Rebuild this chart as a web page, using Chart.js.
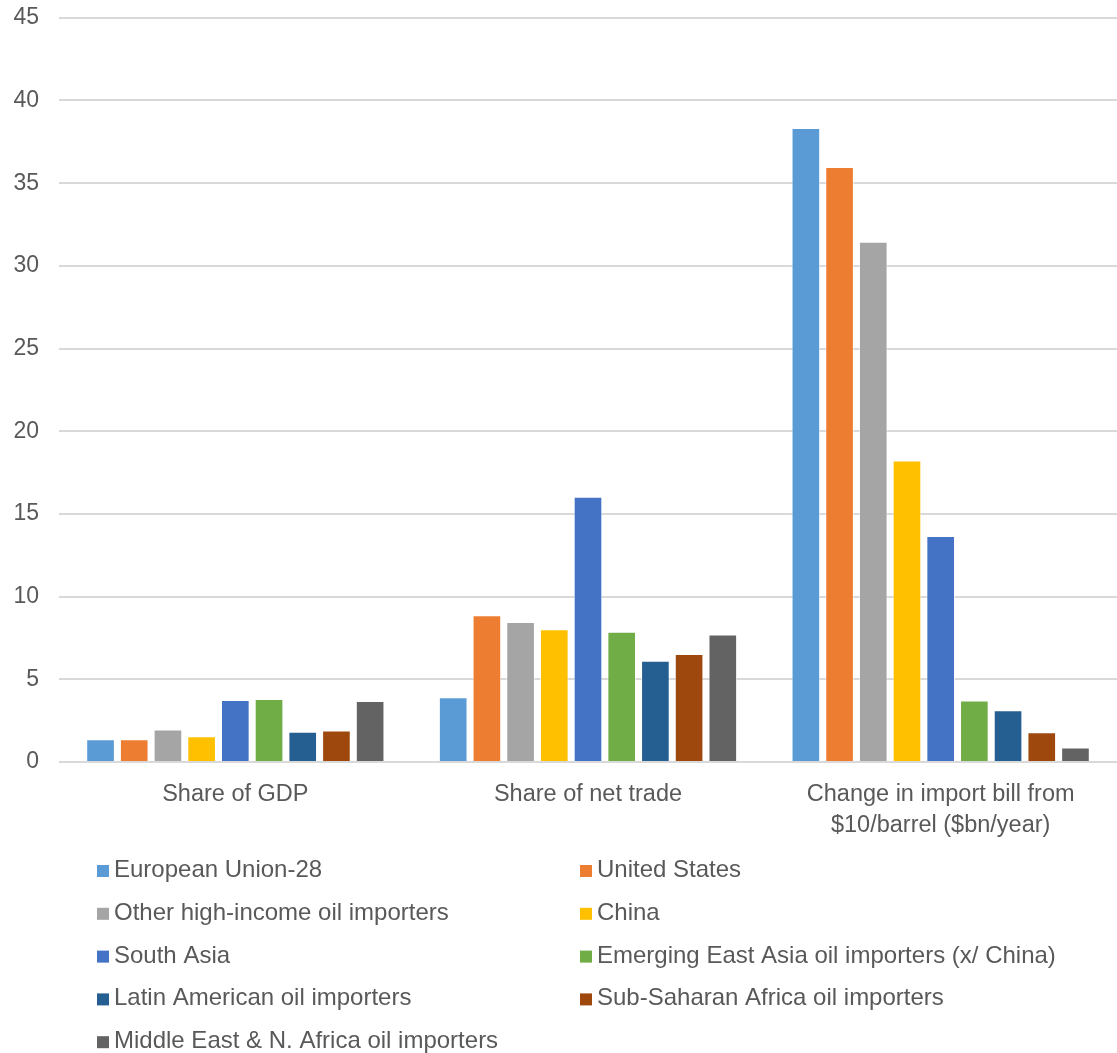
<!DOCTYPE html>
<html>
<head>
    <title>Oil import exposure</title>
    <script src="https://cdn.jsdelivr.net/npm/chart.js"></script>
    <style>
        body { margin: 0; background: #fff; overflow: hidden; }
        #chart-box { position: relative; width: 1117px; height: 1069px; margin-top: -16px; }
    </style>
</head>
<body>
    <div id="chart-box">
        <canvas id="importChart"></canvas>
    </div>

    <script>
        var categories = ["Share of GDP", "Share of net trade", ["Change in import bill from", "$10/barrel ($bn/year)"]];

        var euValues = [1.38, 3.91, 38.33];
        var usValues = [1.38, 8.87, 35.98];
        var otherHighIncomeValues = [1.97, 8.47, 31.45];
        var chinaValues = [1.56, 8.03, 18.23];
        var southAsiaValues = [3.74, 16.03, 13.66];
        var eastAsiaValues = [3.80, 7.87, 3.71];
        var latinAmericaValues = [1.82, 6.12, 3.13];
        var subSaharanValues = [1.90, 6.53, 1.80];
        var menaValues = [3.68, 7.71, 0.87];

        var yTicks = [0, 5, 10, 15, 20, 25, 30, 35, 40, 45];

        var series = [
            { label: "European Union-28", data: euValues, color: "#5B9BD5" },
            { label: "United States", data: usValues, color: "#ED7D31" },
            { label: "Other high-income oil importers", data: otherHighIncomeValues, color: "#A5A5A5" },
            { label: "China", data: chinaValues, color: "#FFC000" },
            { label: "South Asia", data: southAsiaValues, color: "#4472C4" },
            { label: "Emerging East Asia oil importers (x/ China)", data: eastAsiaValues, color: "#70AD47" },
            { label: "Latin American oil importers", data: latinAmericaValues, color: "#255E91" },
            { label: "Sub-Saharan Africa oil importers", data: subSaharanValues, color: "#9E480E" },
            { label: "Middle East & N. Africa oil importers", data: menaValues, color: "#636363" }
        ];

        var textColor = "#595959";
        var font = "'Liberation Sans', Arial, sans-serif";

        // legend in two columns below the axis labels
        var twoColumnLegend = {
            id: 'twoColumnLegend',
            afterDraw: function(chart) {
                var c = chart.ctx;
                c.save();
                c.font = "24px " + font;
                c.textBaseline = "alphabetic";
                c.textAlign = "left";
                chart.data.datasets.forEach(function(ds, i) {
                    var boxX = i % 2 === 0 ? 97 : 580;
                    var baseY = 893 + Math.floor(i / 2) * 42.8;
                    c.fillStyle = ds.backgroundColor;
                    c.fillRect(boxX, baseY - 12, 12, 12);
                    c.fillStyle = textColor;
                    c.fillText(ds.label, boxX + 17, baseY);
                });
                c.restore();
            }
        };

        var ctx = document.getElementById("importChart");
        new Chart(ctx, {
            type: 'bar',
            data: {
                labels: categories,
                datasets: series.map(function(s) {
                    return {
                        label: s.label,
                        data: s.data,
                        backgroundColor: s.color,
                        borderColor: 'rgba(255, 255, 255, 0.6)',
                        borderWidth: 1,
                        categoryPercentage: 0.86,
                        barPercentage: 0.85
                    };
                })
            },
            plugins: [twoColumnLegend],
            options: {
                responsive: true,
                maintainAspectRatio: false,
                animation: false,
                layout: { padding: { left: 12, right: 0, top: 0, bottom: 203 } },
                plugins: {
                    legend: { display: false },
                    tooltip: { enabled: false }
                },
                scales: {
                    x: {
                        grid: { display: false },
                        border: { display: false },
                        ticks: {
                            color: textColor,
                            font: { family: font, size: 23.5, lineHeight: 1.32 },
                            padding: 9,
                            maxRotation: 0
                        }
                    },
                    y: {
                        min: 0,
                        max: 45,
                        afterBuildTicks: function(axis) {
                            axis.ticks = yTicks.map(function(v) { return { value: v }; });
                        },
                        afterFit: function(axis) {
                            axis.width = 47;
                        },
                        grid: { color: '#D9D9D9', lineWidth: 2, drawTicks: false },
                        border: { display: false },
                        ticks: {
                            color: textColor,
                            font: { family: font, size: 23 },
                            padding: 20
                        }
                    }
                }
            }
        });
    </script>
</body>
</html>
